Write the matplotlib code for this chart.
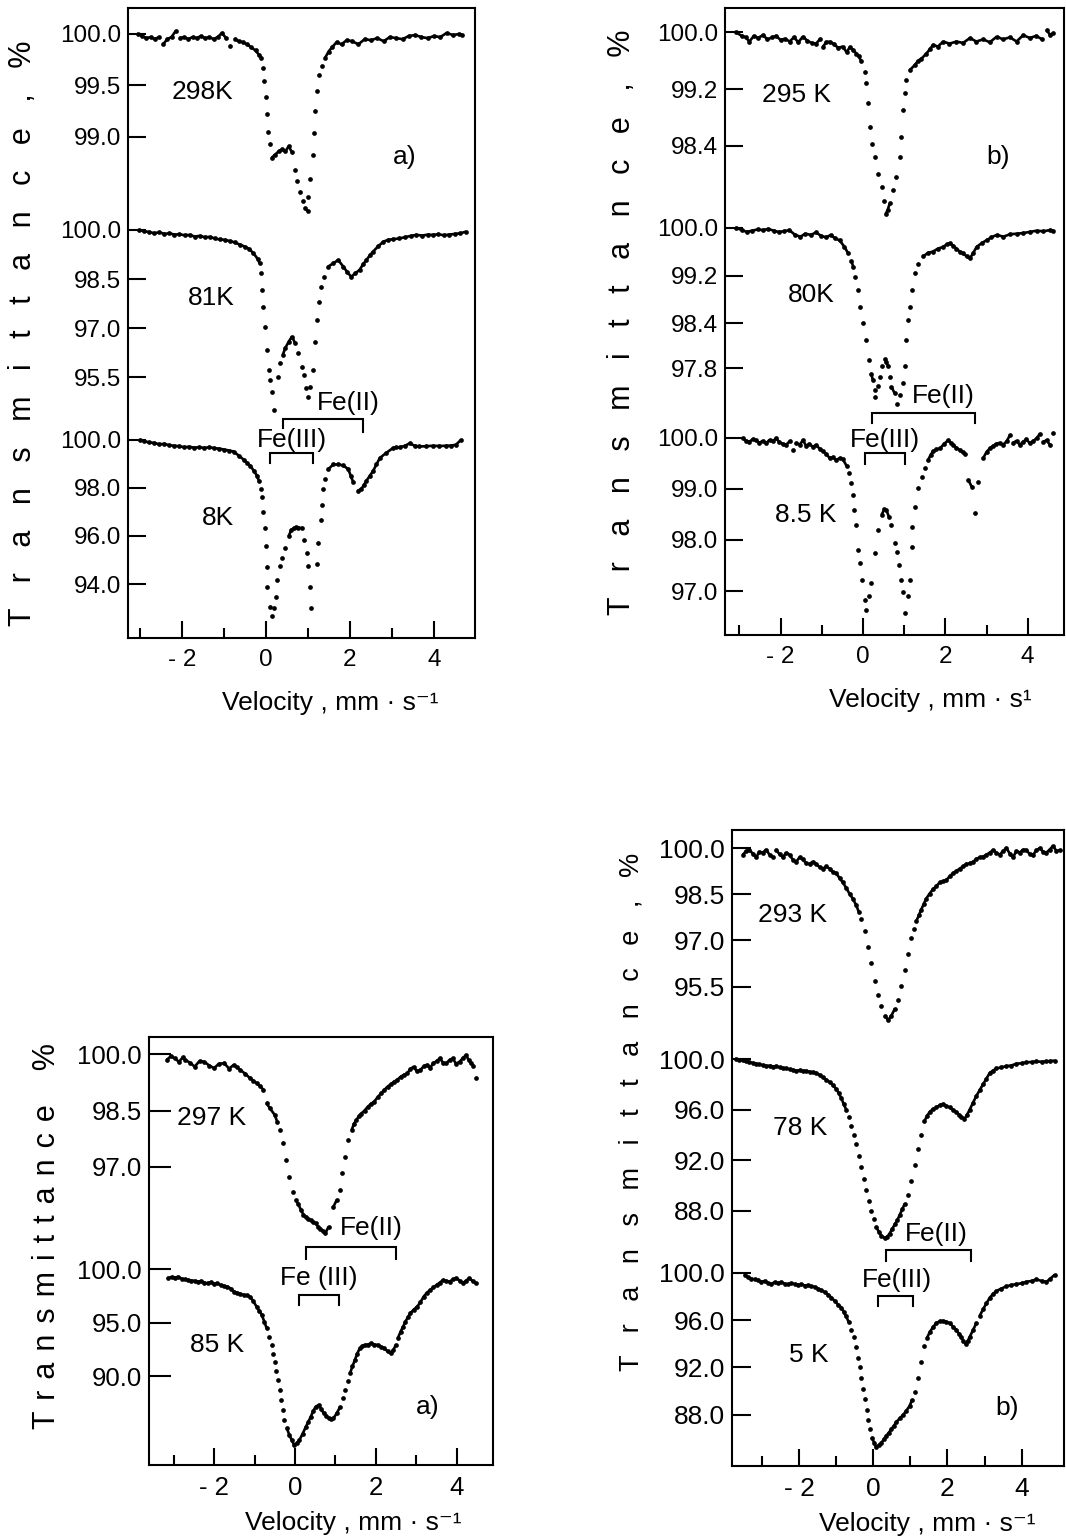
import numpy as np
import matplotlib
matplotlib.use("Agg")
import matplotlib.pyplot as plt
from matplotlib.collections import LineCollection

W, H, DPI = 1066, 1540, 100
plt.rcParams['font.family'] = ['Liberation Sans', 'DejaVu Sans']

# ---------------- DATA (velocity mm/s, transmittance %) ----------------
A_298K = [(-3.05,100.00),(-2.95,99.98),(-2.85,99.96),(-2.75,99.97),(-2.65,99.95),(-2.55,99.97),(-2.45,99.90),
          (-2.35,99.95),(-2.25,99.97),(-2.15,100.03),(-2.05,99.96),(-1.95,99.97),(-1.85,99.95),(-1.75,99.97),
          (-1.65,99.96),(-1.55,99.98),(-1.45,99.96),(-1.35,99.97),(-1.25,99.95),(-1.15,99.97),(-1.05,100.01),
          (-0.95,99.96),(-0.85,99.88),(-0.75,99.95),(-0.65,99.93),(-0.55,99.92),(-0.45,99.90),(-0.35,99.87),
          (-0.25,99.84),(-0.17,99.80),(-0.11,99.77),(-0.07,99.67),(-0.04,99.54),(-0.01,99.39),(0.02,99.22),
          (0.05,99.05),(0.09,98.93),(0.14,98.80),(0.22,98.83),(0.30,98.86),(0.38,98.88),(0.46,98.86),(0.54,98.91),
          (0.62,98.85),(0.69,98.68),(0.73,98.57),(0.81,98.47),(0.88,98.38),(0.93,98.31),(0.99,98.28),(1.01,98.42),
          (1.05,98.59),(1.11,98.83),(1.14,99.04),(1.17,99.25),(1.21,99.45),(1.26,99.60),(1.33,99.69),(1.41,99.77),
          (1.49,99.83),(1.57,99.87),(1.68,99.92),(1.80,99.90),(1.92,99.94),(2.05,99.93),(2.20,99.90),(2.35,99.95),
          (2.50,99.94),(2.65,99.96),(2.80,99.93),(2.95,99.97),(3.10,99.96),(3.25,99.95),(3.40,99.98),(3.55,99.99),
          (3.70,99.97),(3.85,99.96),(4.00,99.98),(4.15,99.97),(4.30,100.01),(4.45,99.99),(4.60,100.00),(4.67,99.99)]
A_81K = [(-3.02,100.00),(-2.90,99.96),(-2.78,99.94),(-2.66,99.90),(-2.54,99.93),(-2.42,99.88),(-2.30,99.90),
         (-2.18,99.86),(-2.06,99.87),(-1.94,99.84),(-1.82,99.85),(-1.70,99.80),(-1.58,99.82),(-1.46,99.78),
         (-1.34,99.79),(-1.22,99.74),(-1.10,99.71),(-0.98,99.70),(-0.86,99.66),(-0.74,99.62),(-0.62,99.55),
         (-0.50,99.49),(-0.40,99.42),(-0.30,99.29),(-0.20,99.12),(-0.15,98.98),(-0.12,98.67),(-0.09,98.16),
         (-0.06,97.65),(-0.02,97.04),(0.02,96.33),(0.06,95.71),(0.10,95.41),(0.14,95.05),(0.18,94.49),
         (0.28,95.50),(0.34,95.93),(0.40,96.18),(0.46,96.39),(0.54,96.58),(0.62,96.74),(0.69,96.54),(0.77,96.23),
         (0.85,95.82),(0.91,95.56),(0.95,95.16),(0.99,94.90),(1.05,95.20),(1.13,95.71),(1.17,96.58),(1.21,97.25),
         (1.25,97.81),(1.30,98.27),(1.37,98.57),(1.48,98.88),(1.60,98.98),(1.72,99.08),(1.84,98.88),(1.94,98.70),
         (2.03,98.57),(2.13,98.68),(2.23,98.78),(2.31,98.95),(2.39,99.08),(2.47,99.22),(2.55,99.34),(2.67,99.50),
         (2.79,99.64),(2.91,99.70),(3.03,99.72),(3.17,99.74),(3.31,99.78),(3.45,99.82),(3.58,99.85),(3.72,99.83),
         (3.86,99.86),(3.97,99.85),(4.10,99.87),(4.23,99.84),(4.36,99.86),(4.50,99.88),(4.63,99.90),(4.76,99.95)]
A_8K = [(-3.01,100.00),(-2.90,99.95),(-2.78,99.90),(-2.66,99.88),(-2.54,99.82),(-2.42,99.84),(-2.30,99.78),
        (-2.18,99.76),(-2.06,99.74),(-1.95,99.70),(-1.83,99.72),(-1.71,99.68),(-1.59,99.70),(-1.47,99.67),
        (-1.35,99.70),(-1.23,99.66),(-1.11,99.64),(-0.99,99.60),(-0.87,99.56),(-0.77,99.52),(-0.65,99.35),
        (-0.53,99.18),(-0.45,99.05),(-0.37,98.91),(-0.29,98.72),(-0.21,98.50),(-0.17,98.30),(-0.13,97.96),
        (-0.09,97.62),(-0.06,97.01),(-0.02,96.33),(0.00,95.58),(0.02,94.69),(0.03,93.88),(0.09,93.06),
        (0.14,92.65),(0.20,93.00),(0.24,93.47),(0.27,94.15),(0.33,94.76),(0.38,95.10),(0.46,95.51),(0.54,95.99),
        (0.60,96.25),(0.66,96.33),(0.72,96.36),(0.77,96.35),(0.85,96.33),(0.91,95.85),(0.97,95.31),(1.01,94.76),
        (1.05,93.88),(1.07,93.00),(1.21,94.83),(1.23,95.71),(1.30,96.67),(1.33,97.28),(1.36,97.96),(1.40,98.37),
        (1.48,98.78),(1.60,98.98),(1.72,98.98),(1.84,98.94),(1.96,98.78),(2.02,98.50),(2.08,98.23),(2.19,97.89),
        (2.27,97.96),(2.33,98.12),(2.39,98.30),(2.47,98.50),(2.55,98.71),(2.63,98.98),(2.71,99.25),(2.86,99.46),
        (3.02,99.66),(3.10,99.70),(3.18,99.70),(3.30,99.75),(3.42,99.86),(3.54,99.76),(3.65,99.73),(3.80,99.74),
        (3.97,99.76),(4.13,99.75),(4.29,99.76),(4.40,99.77),(4.52,99.80),(4.64,100.00)]

B_295K = [(-3.08,100.00),(-2.95,99.95),(-2.85,99.93),(-2.76,99.87),(-2.65,99.95),(-2.55,99.92),(-2.43,99.96),
          (-2.32,99.90),(-2.20,99.93),(-2.11,99.95),(-2.00,99.89),(-1.90,99.91),(-1.78,99.87),(-1.68,99.93),
          (-1.57,99.86),(-1.46,99.94),(-1.35,99.88),(-1.25,99.85),(-1.14,99.84),(-1.05,99.90),(-0.97,99.80),
          (-0.89,99.86),(-0.81,99.87),(-0.70,99.83),(-0.60,99.78),(-0.49,99.80),(-0.40,99.72),(-0.32,99.79),
          (-0.24,99.75),(-0.16,99.70),(-0.10,99.66),(-0.04,99.59),(0.04,99.44),(0.08,99.28),(0.12,99.00),
          (0.16,98.67),(0.23,98.43),(0.28,98.24),(0.37,98.01),(0.45,97.82),(0.50,97.63),(0.55,97.44),(0.60,97.50),
          (0.65,97.59),(0.73,97.78),(0.81,97.96),(0.89,98.24),(0.93,98.53),(0.97,98.90),(1.01,99.14),(1.05,99.33),
          (1.14,99.47),(1.26,99.54),(1.34,99.60),(1.42,99.63),(1.54,99.70),(1.62,99.76),(1.70,99.82),(1.82,99.80),
          (1.95,99.87),(2.10,99.84),(2.27,99.87),(2.43,99.85),(2.60,99.92),(2.75,99.87),(2.92,99.90),(3.08,99.86),
          (3.25,99.94),(3.40,99.90),(3.57,99.93),(3.73,99.87),(3.89,99.96),(4.05,99.92),(4.21,99.95),(4.35,99.90),
          (4.46,100.03),(4.55,99.96),(4.62,99.99)]
B_80K = [(-3.08,100.00),(-2.95,99.96),(-2.82,99.93),(-2.70,99.95),(-2.56,99.97),(-2.43,99.96),(-2.30,99.98),
         (-2.17,99.95),(-2.05,99.93),(-1.92,99.94),(-1.79,99.96),(-1.65,99.88),(-1.52,99.85),(-1.40,99.90),
         (-1.27,99.88),(-1.14,99.92),(-1.01,99.86),(-0.89,99.84),(-0.78,99.88),(-0.68,99.82),(-0.57,99.79),
         (-0.45,99.68),(-0.36,99.57),(-0.28,99.45),(-0.24,99.35),(-0.19,99.18),(-0.12,98.96),(-0.08,98.68),
         (0.00,98.40),(0.08,98.12),(0.15,97.79),(0.20,97.56),(0.24,97.45),(0.28,97.29),(0.30,97.17),(0.36,97.35),
         (0.41,97.51),(0.47,97.68),(0.53,97.81),(0.57,97.75),(0.61,97.68),(0.65,97.51),(0.69,97.34),(0.77,97.23),
         (0.82,97.06),(0.90,97.20),(0.97,97.40),(1.01,97.68),(1.05,98.12),(1.10,98.46),(1.14,98.68),(1.18,98.96),
         (1.26,99.24),(1.34,99.40),(1.46,99.52),(1.58,99.58),(1.70,99.60),(1.82,99.65),(1.95,99.68),(2.03,99.72),
         (2.11,99.74),(2.19,99.70),(2.27,99.65),(2.35,99.60),(2.43,99.57),(2.52,99.52),(2.60,99.49),(2.68,99.58),
         (2.76,99.68),(2.88,99.74),(3.00,99.79),(3.12,99.84),(3.25,99.88),(3.41,99.85),(3.57,99.89),(3.73,99.90),
         (3.89,99.91),(4.05,99.93),(4.22,99.95),(4.38,99.94),(4.54,99.96),(4.62,99.95)]
B_8_5K = [(-2.92,99.99),(-2.84,99.94),(-2.76,99.92),(-2.68,99.97),(-2.60,99.95),(-2.52,99.90),(-2.43,99.94),
          (-2.35,99.89),(-2.27,99.96),(-2.19,99.93),(-2.11,99.99),(-2.03,99.91),(-1.95,99.88),(-1.87,99.86),
          (-1.78,99.93),(-1.70,99.76),(-1.62,99.90),(-1.54,99.86),(-1.46,99.95),(-1.38,99.84),(-1.30,99.88),
          (-1.22,99.82),(-1.14,99.86),(-1.05,99.78),(-0.97,99.73),(-0.89,99.68),(-0.81,99.60),(-0.73,99.62),
          (-0.65,99.56),(-0.57,99.60),(-0.49,99.58),(-0.40,99.45),(-0.34,99.30),(-0.28,99.11),(-0.24,98.88),
          (-0.21,98.58),(-0.16,98.29),(-0.13,97.80),(-0.08,97.54),(-0.02,97.21),(0.04,96.82),(0.08,96.63),
          (0.14,96.90),(0.20,97.15),(0.28,97.74),(0.37,98.19),(0.45,98.49),(0.52,98.60),(0.57,98.58),(0.63,98.45),
          (0.69,98.29),(0.77,97.93),(0.83,97.77),(0.88,97.50),(0.93,97.21),(0.98,96.98),(1.03,96.56),(1.09,96.90),
          (1.14,97.21),(1.18,97.87),(1.20,98.26),(1.26,98.65),(1.34,99.01),(1.44,99.24),(1.51,99.40),(1.58,99.56),
          (1.64,99.66),(1.70,99.73),(1.78,99.77),(1.87,99.79),(1.97,99.88),(2.07,99.95),(2.13,99.90),(2.19,99.86),
          (2.27,99.80),(2.35,99.76),(2.42,99.72),(2.47,99.69),(2.56,99.17),(2.64,99.04),(2.72,98.52),(2.80,99.14),
          (2.92,99.60),(3.00,99.72),(3.08,99.79),(3.16,99.84),(3.24,99.88),(3.32,99.90),(3.40,99.86),(3.49,99.93),
          (3.57,100.05),(3.65,99.90),(3.73,99.94),(3.81,99.86),(3.89,99.92),(3.97,99.97),(4.05,99.89),(4.14,99.94),
          (4.22,99.99),(4.30,100.08),(4.38,99.92),(4.46,99.95),(4.54,99.86),(4.62,100.10)]

C_297K = [(-3.17,99.85),(-3.07,99.95),(-2.97,99.89),(-2.87,99.80),(-2.77,99.92),(-2.72,99.85),(-2.60,99.78),
          (-2.48,99.67),(-2.36,99.82),(-2.24,99.80),(-2.12,99.70),(-2.00,99.63),(-1.88,99.75),(-1.75,99.76),
          (-1.63,99.62),(-1.51,99.72),(-1.43,99.65),(-1.35,99.58),(-1.23,99.48),(-1.11,99.36),(-1.03,99.30),
          (-0.95,99.23),(-0.86,99.15),(-0.78,99.05),(-0.70,98.69),(-0.62,98.56),(-0.50,98.38),(-0.44,98.20),
          (-0.38,97.98),(-0.30,97.62),(-0.22,97.18),(-0.14,96.73),(-0.06,96.33),(0.02,96.11),(0.08,96.00),
          (0.15,95.84),(0.21,95.72),(0.27,95.66),(0.33,95.60),(0.39,95.57),(0.45,95.52),(0.51,95.49),(0.57,95.40),
          (0.63,95.35),(0.69,95.28),(0.75,95.22),(0.83,95.40),(0.95,95.93),(1.03,96.11),(1.12,96.38),(1.16,96.82),
          (1.24,97.27),(1.32,97.71),(1.40,97.98),(1.46,98.15),(1.52,98.25),(1.58,98.35),(1.64,98.42),(1.72,98.50),
          (1.80,98.60),(1.88,98.68),(1.96,98.74),(2.04,98.85),(2.13,98.96),(2.21,99.05),(2.29,99.14),(2.37,99.20),
          (2.45,99.27),(2.53,99.32),(2.61,99.40),(2.69,99.45),(2.77,99.49),(2.85,99.60),(2.93,99.67),(3.01,99.55),
          (3.10,99.58),(3.18,99.68),(3.26,99.72),(3.34,99.64),(3.42,99.76),(3.50,99.82),(3.58,99.89),(3.66,99.78),
          (3.74,99.76),(3.82,99.85),(3.90,99.89),(3.98,99.75),(4.07,99.80),(4.15,99.90),(4.23,99.98),(4.29,99.85),
          (4.35,99.76),(4.41,99.70),(4.47,99.36)]
C_85K = [(-3.13,99.16),(-3.05,99.30),(-2.97,99.20),(-2.89,99.31),(-2.80,99.10),(-2.72,99.05),(-2.64,99.00),
         (-2.56,98.95),(-2.48,98.92),(-2.40,98.84),(-2.32,98.90),(-2.24,98.75),(-2.16,98.69),(-2.08,98.80),
         (-2.00,98.62),(-1.92,98.69),(-1.83,98.50),(-1.75,98.42),(-1.67,98.38),(-1.59,98.20),(-1.51,97.91),
         (-1.43,97.80),(-1.35,97.70),(-1.27,97.59),(-1.19,97.55),(-1.11,97.44),(-1.03,97.00),(-0.95,96.50),
         (-0.88,96.10),(-0.82,95.72),(-0.76,95.10),(-0.70,94.47),(-0.64,93.70),(-0.58,92.91),(-0.54,92.10),
         (-0.50,91.34),(-0.46,90.50),(-0.42,89.63),(-0.38,88.70),(-0.34,87.75),(-0.30,86.80),(-0.26,85.88),
         (-0.20,85.10),(-0.14,84.47),(-0.08,84.00),(-0.02,83.53),(0.04,83.70),(0.11,84.00),(0.19,84.60),
         (0.27,85.25),(0.33,85.70),(0.39,86.19),(0.45,86.70),(0.51,87.13),(0.59,87.28),(0.65,86.90),(0.71,86.50),
         (0.77,86.25),(0.83,86.03),(0.89,85.95),(0.95,86.03),(1.03,86.50),(1.12,87.13),(1.18,87.90),(1.24,88.69),
         (1.30,89.50),(1.36,90.25),(1.42,90.90),(1.48,91.50),(1.54,92.10),(1.60,92.59),(1.66,92.80),(1.72,92.91),
         (1.80,92.95),(1.88,93.06),(1.96,92.95),(2.05,92.91),(2.13,92.75),(2.21,92.59),(2.29,92.30),(2.37,92.13),
         (2.43,92.40),(2.49,92.91),(2.55,93.60),(2.61,94.16),(2.67,94.60),(2.73,95.09),(2.79,95.50),(2.85,95.88),
         (2.93,96.20),(3.02,96.50),(3.10,96.90),(3.18,97.44),(3.26,97.80),(3.34,98.06),(3.42,98.30),(3.50,98.53),
         (3.58,98.75),(3.66,99.00),(3.74,98.90),(3.82,98.84),(3.90,99.05),(3.99,99.16),(4.07,98.95),(4.15,98.69),
         (4.23,98.95),(4.31,99.16),(4.39,98.90),(4.47,98.69)]

D_293K = [(-3.52,99.78),(-3.43,99.90),(-3.34,99.93),(-3.25,99.82),(-3.16,99.70),(-3.07,99.88),(-2.98,99.85),
          (-2.89,99.95),(-2.80,99.78),(-2.71,99.70),(-2.62,99.93),(-2.53,99.80),(-2.44,99.70),(-2.35,99.85),
          (-2.26,99.78),(-2.17,99.62),(-2.08,99.55),(-1.99,99.70),(-1.90,99.63),(-1.81,99.50),(-1.72,99.48),
          (-1.63,99.56),(-1.54,99.48),(-1.45,99.38),(-1.36,99.33),(-1.27,99.40),(-1.18,99.33),(-1.09,99.22),
          (-1.00,99.18),(-0.91,99.02),(-0.82,98.88),(-0.73,98.70),(-0.64,98.51),(-0.55,98.35),(-0.46,98.14),
          (-0.39,97.92),(-0.32,97.69),(-0.23,97.32),(-0.14,96.80),(-0.05,96.27),(0.04,95.68),(0.13,95.23),
          (0.22,94.86),(0.31,94.56),(0.40,94.41),(0.49,94.56),(0.58,94.78),(0.67,95.08),(0.76,95.53),(0.85,96.05),
          (0.94,96.57),(1.03,97.09),(1.10,97.38),(1.16,97.62),(1.23,97.82),(1.29,97.99),(1.36,98.18),(1.43,98.36),
          (1.52,98.52),(1.61,98.66),(1.70,98.76),(1.79,98.88),(1.88,98.92),(1.97,98.96),(2.06,99.08),(2.15,99.18),
          (2.24,99.25),(2.33,99.33),(2.42,99.40),(2.51,99.48),(2.60,99.50),(2.69,99.55),(2.78,99.64),(2.87,99.70),
          (2.96,99.72),(3.05,99.78),(3.14,99.85),(3.23,99.93),(3.32,99.85),(3.41,99.78),(3.50,99.90),(3.59,100.00),
          (3.68,99.82),(3.77,99.70),(3.86,99.90),(3.95,99.85),(4.04,99.95),(4.13,99.93),(4.22,99.80),(4.31,99.78),
          (4.40,99.92),(4.49,100.00),(4.58,99.88),(4.67,99.85),(4.76,99.95),(4.85,100.07),(4.94,99.90),(5.03,99.93)]
D_78K = [(-3.70,100.00),(-3.61,99.92),(-3.52,99.90),(-3.43,99.82),(-3.34,99.78),(-3.25,99.70),(-3.16,99.64),
         (-3.07,99.60),(-2.98,99.52),(-2.89,99.45),(-2.80,99.50),(-2.71,99.42),(-2.62,99.45),(-2.53,99.35),
         (-2.44,99.30),(-2.35,99.27),(-2.26,99.20),(-2.17,99.15),(-2.08,99.09),(-1.99,99.12),(-1.90,99.05),
         (-1.81,99.09),(-1.72,99.00),(-1.63,98.95),(-1.54,98.91),(-1.45,98.75),(-1.36,98.55),(-1.27,98.38),
         (-1.18,98.18),(-1.09,97.95),(-1.00,97.64),(-0.93,97.30),(-0.86,96.91),(-0.80,96.45),(-0.73,96.00),
         (-0.66,95.40),(-0.59,94.73),(-0.52,94.00),(-0.46,93.27),(-0.39,92.35),(-0.32,91.45),(-0.25,90.50),
         (-0.19,89.64),(-0.12,88.80),(-0.05,88.00),(0.01,87.30),(0.08,86.73),(0.15,86.30),(0.22,86.00),
         (0.31,85.82),(0.38,85.95),(0.44,86.18),(0.51,86.55),(0.58,86.91),(0.65,87.25),(0.71,87.64),(0.78,88.10),
         (0.85,88.55),(0.94,89.27),(1.03,90.36),(1.12,91.64),(1.21,92.91),(1.29,94.00),(1.38,95.09),(1.45,95.50),
         (1.52,95.82),(1.61,96.05),(1.70,96.18),(1.79,96.35),(1.88,96.47),(1.97,96.30),(2.06,96.18),(2.15,96.00),
         (2.24,95.82),(2.31,95.60),(2.37,95.45),(2.46,95.27),(2.53,95.60),(2.60,96.00),(2.69,96.55),(2.78,97.09),
         (2.87,97.55),(2.96,98.00),(3.05,98.45),(3.14,98.91),(3.23,99.10),(3.32,99.27),(3.45,99.35),(3.59,99.45),
         (3.72,99.50),(3.86,99.64),(4.00,99.68),(4.13,99.75),(4.27,99.78),(4.40,99.82),(4.54,99.80),(4.67,99.82),
         (4.78,99.85),(4.89,99.89)]
D_5K = [(-3.47,99.81),(-3.38,99.60),(-3.29,99.50),(-3.20,99.42),(-3.11,99.35),(-3.02,99.22),(-2.93,99.30),
        (-2.84,99.12),(-2.75,99.03),(-2.66,99.20),(-2.57,99.10),(-2.48,99.22),(-2.39,99.05),(-2.30,99.00),
        (-2.21,99.10),(-2.12,99.03),(-2.03,98.95),(-1.94,99.03),(-1.85,98.90),(-1.76,98.95),(-1.67,98.84),
        (-1.58,98.80),(-1.49,98.65),(-1.40,98.50),(-1.31,98.35),(-1.22,98.15),(-1.13,97.90),(-1.04,97.60),
        (-0.95,97.30),(-0.86,97.05),(-0.80,96.70),(-0.73,96.30),(-0.66,95.80),(-0.60,95.20),(-0.53,94.57),
        (-0.47,93.70),(-0.41,92.83),(-0.36,92.00),(-0.32,91.09),(-0.27,90.20),(-0.23,89.34),(-0.18,88.45),
        (-0.14,87.60),(-0.08,86.80),(-0.03,86.05),(0.03,85.60),(0.08,85.27),(0.15,85.45),(0.22,85.66),
        (0.29,85.95),(0.35,86.24),(0.42,86.50),(0.49,86.82),(0.56,87.10),(0.62,87.40),(0.71,87.70),(0.80,87.98),
        (0.89,88.35),(0.98,88.76),(1.05,89.30),(1.12,89.92),(1.21,91.09),(1.29,92.44),(1.38,93.80),(1.45,94.50),
        (1.52,94.96),(1.61,95.40),(1.70,95.74),(1.79,95.90),(1.88,95.93),(1.97,95.85),(2.06,95.74),(2.15,95.45),
        (2.24,95.16),(2.31,94.85),(2.37,94.57),(2.43,94.25),(2.49,93.99),(2.55,94.25),(2.60,94.57),(2.69,95.15),
        (2.78,95.74),(2.87,96.35),(2.96,96.90),(3.05,97.40),(3.14,97.87),(3.23,98.20),(3.32,98.45),(3.45,98.65),
        (3.59,98.84),(3.72,98.95),(3.86,99.03),(4.00,99.10),(4.13,99.22),(4.27,99.30),(4.40,99.42),(4.54,99.30),
        (4.67,99.22),(4.78,99.50),(4.89,99.81)]

# tick values / labels
X_MAJOR = [-2, 0, 2, 4]
X_MAJOR_LABELS = ['- 2', '0', '2', '4']
X_MINOR = [-3, -1, 1, 3]
YT_A298 = [100.0, 99.5, 99.0];  YL_A298 = ['100.0', '99.5', '99.0']
YT_A81 = [100.0, 98.5, 97.0, 95.5]; YL_A81 = ['100.0', '98.5', '97.0', '95.5']
YT_A8 = [100.0, 98.0, 96.0, 94.0]; YL_A8 = ['100.0', '98.0', '96.0', '94.0']
YT_B295 = [100.0, 99.2, 98.4]; YL_B295 = ['100.0', '99.2', '98.4']
YT_B80 = [100.0, 99.2, 98.4, 97.65]; YL_B80 = ['100.0', '99.2', '98.4', '97.8']
YT_B85 = [100.0, 99.0, 98.0, 97.0]; YL_B85 = ['100.0', '99.0', '98.0', '97.0']
YT_C297 = [100.0, 98.5, 97.0]; YL_C297 = ['100.0', '98.5', '97.0']
YT_C85 = [100.0, 95.0, 90.0]; YL_C85 = ['100.0', '95.0', '90.0']
YT_D293 = [100.0, 98.5, 97.0, 95.5]; YL_D293 = ['100.0', '98.5', '97.0', '95.5']
YT_D78 = [100.0, 96.0, 92.0, 88.0]; YL_D78 = ['100.0', '96.0', '92.0', '88.0']
YT_D5 = [100.0, 96.0, 92.0, 88.0]; YL_D5 = ['100.0', '96.0', '92.0', '88.0']

# ---------------- FIGURE ----------------
fig = plt.figure(figsize=(W / DPI, H / DPI), dpi=DPI)
fig.patch.set_facecolor('white')
LW = 1.5
FONT = 'Liberation Sans'


def rect(box):
    l, r, t, b = box
    return [l / W, 1 - b / H, (r - l) / W, (b - t) / H]


def make_frame(box, x0, upx, fs, pad=8):
    l, r, t, b = box
    ax = fig.add_axes(rect(box))
    ax.set_xlim((l - x0) / upx, (r - x0) / upx)
    ax.set_ylim(b, t)  # pixel rows downward, used for annotations only
    ax.set_xticks(X_MAJOR)
    ax.set_xticklabels(X_MAJOR_LABELS, family=FONT, fontsize=fs)
    ax.set_xticks(X_MINOR, minor=True)
    ax.set_yticks([])
    ax.tick_params(axis='x', which='major', direction='in', length=12, width=LW, pad=pad)
    ax.tick_params(axis='x', which='minor', direction='in', length=7, width=LW)
    for s in ax.spines.values():
        s.set_linewidth(LW)
    ax.patch.set_visible(False)
    return ax


def add_spectrum(box, frame, p100, ppu, data, ticks, labels, fs, tlen=13):
    l, r, t, b = box
    sa = fig.add_axes(rect(box))
    sa.set_xlim(frame.get_xlim())
    sa.set_ylim(100 - (b - p100) / ppu, 100 + (p100 - t) / ppu)
    sa.patch.set_visible(False)
    for s in sa.spines.values():
        s.set_visible(False)
    sa.set_xticks([])
    sa.set_yticks(ticks)
    sa.set_yticklabels(labels, family=FONT, fontsize=fs)
    sa.tick_params(axis='y', direction='in', length=tlen, width=LW, pad=5)
    arr = np.array(data)
    v, tt = arr[:, 0], arr[:, 1]
    sa.plot(v, tt, 'o', ms=3.4, color='black', mec='none')
    pts = np.column_stack([v, tt])
    segs = np.stack([pts[:-1], pts[1:]], axis=1)
    keep = np.abs(np.diff(tt)) * ppu < 7.0
    sa.add_collection(LineCollection(segs[keep], colors='black', linewidths=1.9))
    return sa


def bracket(ax, v1, v2, y, leg1, leg2):
    ax.plot([v1, v1, v2, v2], [y + leg1, y, y, y + leg2], color='black', lw=LW,
            solid_joinstyle='miter')


def ylabel(text, xc, yc, fs):
    fig.text(xc / W, 1 - yc / H, text, rotation=90, ha='center', va='center',
             fontsize=fs, family=[FONT, 'DejaVu Sans'])


def xlabel(text, xc, yc, fs):
    fig.text(xc / W, 1 - yc / H, text, ha='center', va='center', fontsize=fs,
             family=[FONT, 'DejaVu Sans'])


WIDE = '   '
YLAB_WIDE = WIDE.join(list('Transmittance')) + WIDE + ',' + WIDE + '%'
YLAB_C = ' \u200a'.join(list('Transmittance')) + '    %'

# ---- Panel A (top left)
boxA = (128, 475, 8, 638)
axA = make_frame(boxA, 266, 42.0, 17.5)
add_spectrum(boxA, axA, 34, 103.0, A_298K, YT_A298, YL_A298, 17.5)
add_spectrum(boxA, axA, 230, 32.67, A_81K, YT_A81, YL_A81, 17.5)
add_spectrum(boxA, axA, 440, 24.0, A_8K, YT_A8, YL_A8, 17.5)
for s, v, y in [('298K', -2.24, 92), ('81K', -1.86, 298), ('8K', -1.52, 518), ('a)', 3.03, 157),
                ('Fe(II)', 1.21, 403), ('Fe(III)', -0.21, 440)]:
    axA.text(v, y, s, ha='left', va='center', fontsize=19, family=FONT)
bracket(axA, 0.40, 2.31, 419, 9, 13)
bracket(axA, 0.10, 1.12, 453, 10, 10)
ylabel(YLAB_WIDE, 23, 333, 22)
xlabel('Velocity , mm · s⁻¹', 330, 703, 19)

# ---- Panel B (top right)
boxB = (725, 1064, 8, 635)
axB = make_frame(boxB, 863, 41.17, 17.5)
add_spectrum(boxB, axB, 32.3, 71.0, B_295K, YT_B295, YL_B295, 17.5)
add_spectrum(boxB, axB, 227.7, 59.8, B_80K, YT_B80, YL_B80, 17.5)
add_spectrum(boxB, axB, 437.7, 51.1, B_8_5K, YT_B85, YL_B85, 17.5)
for s, v, y in [('295 K', -2.45, 95), ('80K', -1.82, 295), ('8.5 K', -2.14, 515), ('b)', 3.0, 157),
                ('Fe(II)', 1.19, 396), ('Fe(III)', -0.32, 440)]:
    axB.text(v, y, s, ha='left', va='center', fontsize=19, family=FONT)
bracket(axB, 0.22, 2.72, 413, 10, 10)
bracket(axB, 0.05, 1.02, 453, 11, 11)
ylabel(YLAB_WIDE, 622, 322, 22)
xlabel('Velocity , mm · s¹', 930, 700, 19)

# ---- Panel C (bottom left)
boxC = (149, 493, 1037, 1465)
axC = make_frame(boxC, 295, 40.45, 18.5)
add_spectrum(boxC, axC, 1054.3, 37.47, C_297K, YT_C297, YL_C297, 18.5, tlen=16)
add_spectrum(boxC, axC, 1269.3, 10.67, C_85K, YT_C85, YL_C85, 18.5, tlen=16)
for s, v, y in [('297 K', -2.92, 1118), ('85 K', -2.6, 1345), ('a)', 3.0, 1407),
                ('Fe(II)', 1.11, 1228), ('Fe (III)', -0.37, 1278)]:
    axC.text(v, y, s, ha='left', va='center', fontsize=19, family=FONT)
bracket(axC, 0.27, 2.50, 1247, 12, 12)
bracket(axC, 0.10, 1.09, 1295, 10, 10)
ylabel(YLAB_C, 47, 1236, 22)
xlabel('Velocity , mm · s⁻¹', 353, 1523, 19)

# ---- Panel D (bottom right)
boxD = (732, 1064, 830, 1466)
axD = make_frame(boxD, 873.3, 37.07, 19)
add_spectrum(boxD, axD, 848.0, 30.8, D_293K, YT_D293, YL_D293, 19, tlen=14)
add_spectrum(boxD, axD, 1059.2, 12.62, D_78K, YT_D78, YL_D78, 19, tlen=14)
add_spectrum(boxD, axD, 1272.6, 11.86, D_5K, YT_D5, YL_D5, 19, tlen=14)
for s, v, y in [('293 K', -3.11, 915), ('78 K', -2.7, 1128), ('5 K', -2.27, 1355), ('b)', 3.28, 1408),
                ('Fe(II)', 0.85, 1234), ('Fe(III)', -0.31, 1280)]:
    axD.text(v, y, s, ha='left', va='center', fontsize=19, family=FONT)
bracket(axD, 0.34, 2.64, 1250, 11, 11)
bracket(axD, 0.13, 1.07, 1296, 10, 10)
ylabel(YLAB_WIDE, 632, 1112, 19.5)
xlabel('Velocity , mm · s⁻¹', 927, 1524, 19)

fig.savefig('out.png', dpi=DPI, facecolor='white')
